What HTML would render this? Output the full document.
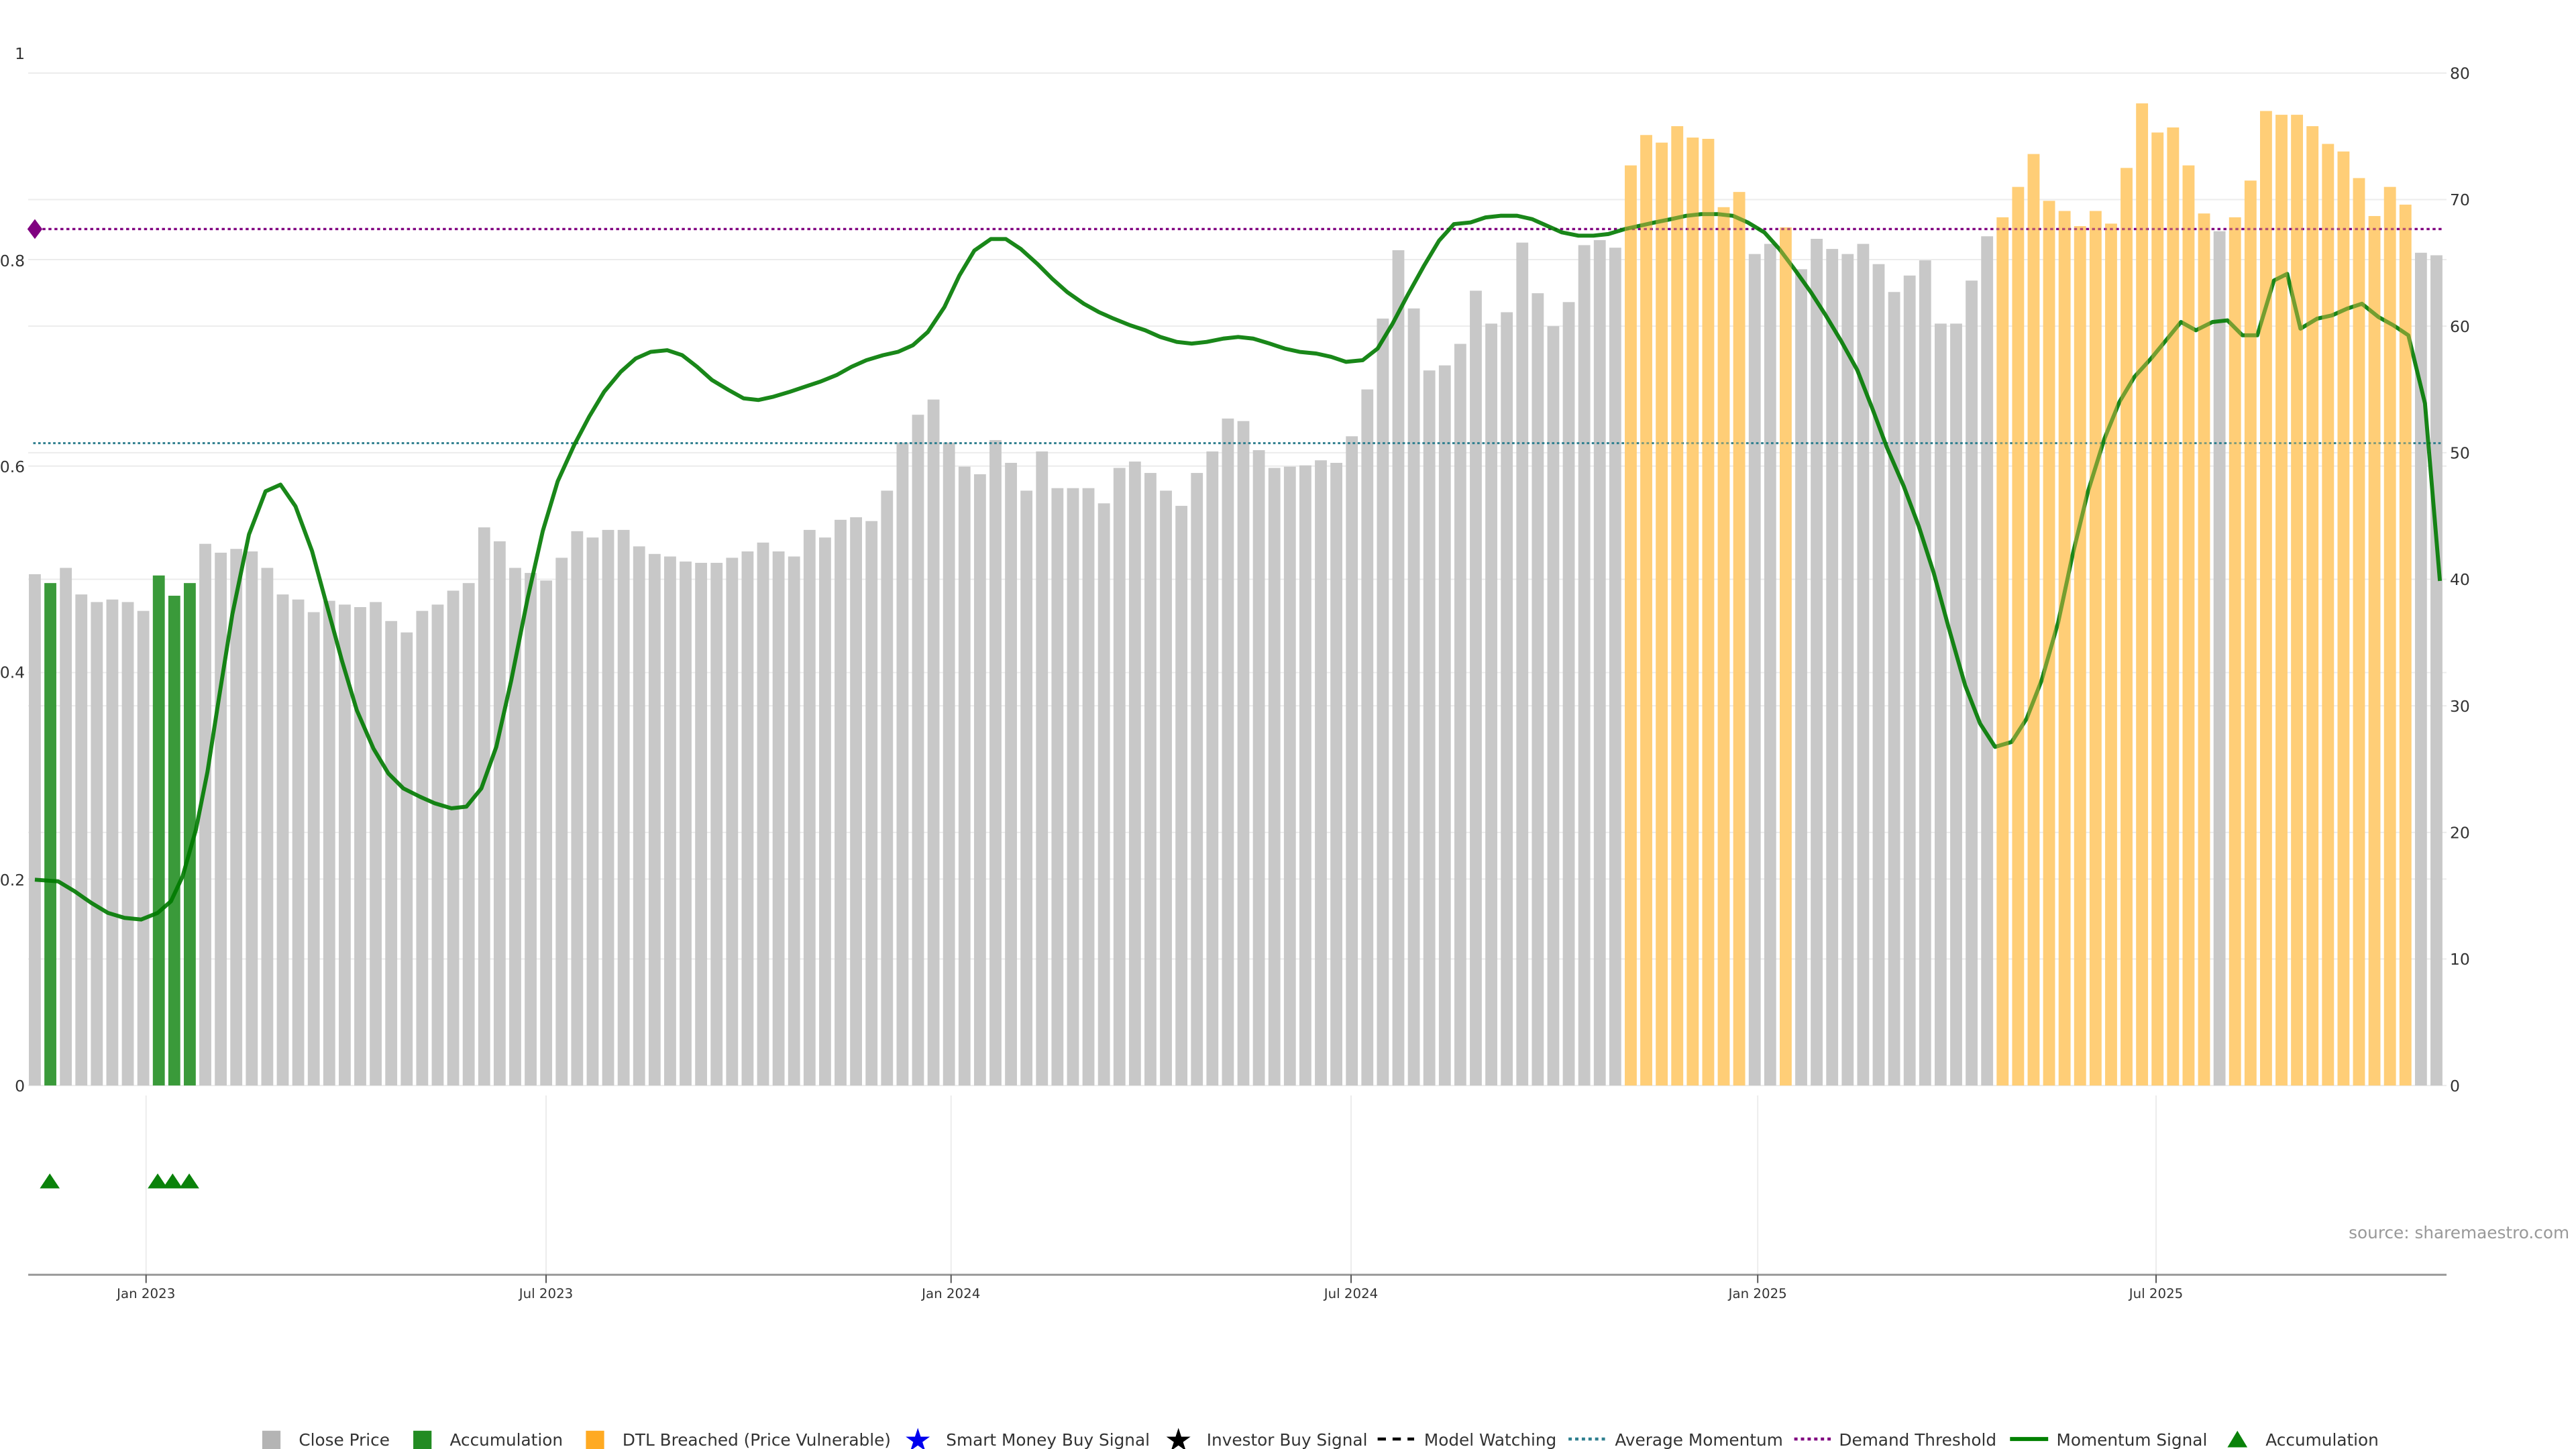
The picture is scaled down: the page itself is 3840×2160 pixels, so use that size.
<!DOCTYPE html>
<html><head><meta charset="utf-8"><style>
html,body{margin:0;padding:0;background:#fff;}
svg{display:block;font-family:"DejaVu Sans","Liberation Sans",sans-serif;}
</style></head><body>
<svg id="c" width="3840" height="2160" viewBox="0 0 1552 873" xmlns="http://www.w3.org/2000/svg">
<rect width="1552" height="873" fill="#fff"/>
<g id="grid" stroke="#ececec" stroke-width="0.8"></g>
<g id="bars"></g>
<line x1="20" y1="267" x2="1472" y2="267" stroke="#2f7f8f" stroke-width="1.2" stroke-dasharray="1.5,1.5"/>
<line x1="22" y1="138" x2="1472" y2="138" stroke="#800080" stroke-width="1.4" stroke-dasharray="1.8,1.8"/>
<polygon points="21,132 25.5,138 21,144 16.5,138" fill="#800080"/>
<polyline id="mom" fill="none" stroke="#007a00" stroke-opacity="0.9" stroke-width="2.4" stroke-linejoin="round"/>
<g id="bars2" opacity="0.4"></g>
<g id="labels" font-size="9.5" fill="#333"></g>
<g fill="#0a820a" id="tri"></g>
<line x1="17" y1="768" x2="1474" y2="768" stroke="#999" stroke-width="1.2"/>
<g id="xt" font-size="8" fill="#333" text-anchor="middle"></g>
<text x="1548" y="746" font-size="10" fill="#999" text-anchor="end">source: sharemaestro.com</text>
<g font-size="10" fill="#333">
<rect x="158" y="862" width="11" height="11" fill="#b4b4b4"/><text x="180" y="871">Close Price</text>
<rect x="249" y="862" width="11" height="11" fill="#228b22"/><text x="271" y="871">Accumulation</text>
<rect x="353" y="862" width="11" height="11" fill="#ffaa22"/><text x="375" y="871">DTL Breached (Price Vulnerable)</text>
<text x="553" y="874" font-size="19" fill="#0000ee" text-anchor="middle">★</text><text x="570" y="871">Smart Money Buy Signal</text>
<text x="710" y="874" font-size="19" fill="#000" text-anchor="middle">★</text><text x="727" y="871">Investor Buy Signal</text>
<line x1="830" y1="867" x2="852" y2="867" stroke="#000" stroke-width="1.8" stroke-dasharray="5,4"/><text x="858" y="871">Model Watching</text>
<line x1="945" y1="867" x2="968" y2="867" stroke="#2f7f8f" stroke-width="1.8" stroke-dasharray="2,2"/><text x="973" y="871">Average Momentum</text>
<line x1="1081" y1="867" x2="1103" y2="867" stroke="#800080" stroke-width="1.8" stroke-dasharray="2,2"/><text x="1108" y="871">Demand Threshold</text>
<line x1="1211" y1="867" x2="1234" y2="867" stroke="#008000" stroke-width="2.4"/><text x="1239" y="871">Momentum Signal</text>
<polygon points="1342,872 1348,862 1354,872" fill="#0a820a"/><text x="1365" y="871">Accumulation</text>
</g>
</svg>
<script>
var NS="http://www.w3.org/2000/svg";
function el(p,t,a,txt){var e=document.createElementNS(NS,t);for(var k in a)e.setAttribute(k,a[k]);if(txt!=null)e.textContent=txt;document.getElementById(p).appendChild(e);return e;}
for(var v=0;v<=80;v+=10){var y=654-v*7.625;el("grid","line",{x1:17,x2:1474,y1:y,y2:y});el("labels","text",{x:1476,y:y+3.5},String(v));}
[0.2,0.4,0.6,0.8].forEach(function(v){var y=654-v*622;el("grid","line",{x1:17,x2:1474,y1:y,y2:y});});
[["0",654],["0.2",530],["0.4",405],["0.6",281],["0.8",157],["1",32]].forEach(function(a){el("labels","text",{x:15,y:a[1]+3.5,"text-anchor":"end"},a[0]);});
var ticks=[[88,"Jan 2023"],[329,"Jul 2023"],[573,"Jan 2024"],[814,"Jul 2024"],[1059,"Jan 2025"],[1299,"Jul 2025"]];
ticks.forEach(function(t){el("grid","line",{x1:t[0],x2:t[0],y1:660,y2:768});el("xt","line",{x1:t[0],x2:t[0],y1:768,y2:773,stroke:"#555","stroke-width":0.8});el("xt","text",{x:t[0],y:782},t[1]);});
var vals=[40.4,39.7,40.9,38.8,38.2,38.4,38.2,37.5,40.3,38.7,39.7,42.8,42.1,42.4,42.2,40.9,38.8,38.4,37.4,38.3,38,37.8,38.2,36.7,35.8,37.5,38,39.1,39.7,44.1,43,40.9,40.5,39.9,41.7,43.8,43.3,43.9,43.9,42.6,42,41.8,41.4,41.3,41.3,41.7,42.2,42.9,42.2,41.8,43.9,43.3,44.7,44.9,44.6,47,50.8,53,54.2,50.8,48.9,48.3,51,49.2,47,50.1,47.2,47.2,47.2,46,48.8,49.3,48.4,47,45.8,48.4,50.1,52.7,52.5,50.2,48.8,48.9,49,49.4,49.2,51.3,55,60.6,66,61.4,56.5,56.9,58.6,62.8,60.2,61.1,66.6,62.6,60,61.9,66.4,66.8,66.2,72.7,75.1,74.5,75.8,74.9,74.8,69.4,70.6,65.7,66.5,67.8,64.5,66.9,66.1,65.7,66.5,64.9,62.7,64,65.2,60.2,60.2,63.6,67.1,68.6,71,73.6,69.9,69.1,67.9,69.1,68.1,72.5,77.6,75.3,75.7,72.7,68.9,67.5,68.6,71.5,77,76.7,76.7,75.8,74.4,73.8,71.7,68.7,71,69.6,65.8,65.6];
var green=[1,8,9,10];
function isO(i){return (i>=103&&i<=110)||i==113||(i>=127&&i<=140)||(i>=142&&i<=153);}
function col(i){if(green.indexOf(i)>=0)return "#3a9a3a";if(isO(i))return "#ffd386";return "#c8c8c8";}
for(var i=0;i<vals.length;i++){var x=21+i*9.335,h=vals[i]*7.625;el("bars","rect",{x:x-3.6,y:654-h,width:7.2,height:h,fill:col(i)});if(isO(i))el("bars2","rect",{x:x-3.6,y:654-h,width:7.2,height:h,fill:"#ffc862"});}
[30,95,104,114].forEach(function(x){el("tri","polygon",{points:(x-6)+",716 "+x+",707 "+(x+6)+",716"});});
var pts=[[21,530],[35,531],[45,537],[55,544],[65,550],[75,553],[85,554],[95,550],[103,543],[110,528],[118,500],[125,465],[132,420],[140,370],[150,322],[160,296],[169,292],[178,305],[188,332],[197,365],[206,398],[215,428],[225,451],[234,466],[243,475],[253,480],[262,484],[272,487],[281,486],[290,475],[299,450],[308,410],[318,360],[327,320],[336,290],[346,268],[355,251],[364,236],[374,224],[383,216],[392,212],[402,211],[411,214],[420,221],[429,229],[439,235],[448,240],[457,241],[466,239],[476,236],[485,233],[494,230],[504,226],[513,221],[522,217],[532,214],[541,212],[550,208],[559,200],[569,185],[578,166],[587,151],[597,144],[606,144],[615,150],[625,159],[634,168],[643,176],[653,183],[662,188],[671,192],[681,196],[690,199],[699,203],[709,206],[718,207],[727,206],[737,204],[746,203],[755,204],[765,207],[774,210],[783,212],[793,213],[802,215],[811,218],[821,217],[830,210],[839,195],[848,178],[858,160],[867,145],[876,135],[886,134],[895,131],[904,130],[914,130],[923,132],[932,136],[941,140],[951,142],[960,142],[969,141],[979,138],[988,136],[997,134],[1007,132],[1016,130],[1025,129],[1035,129],[1044,130],[1053,134],[1063,140],[1072,150],[1081,162],[1091,176],[1100,190],[1109,205],[1119,223],[1128,246],[1137,270],[1147,293],[1156,317],[1165,345],[1174,378],[1184,413],[1193,436],[1202,450],[1212,447],[1221,433],[1230,410],[1240,375],[1249,333],[1258,296],[1268,264],[1277,242],[1286,227],[1296,216],[1305,205],[1314,194],[1323,199],[1333,194],[1342,193],[1351,202],[1360,202],[1370,169],[1378,165],[1386,198],[1396,192],[1405,190],[1414,186],[1423,183],[1433,191],[1442,196],[1451,202],[1461,243],[1470,350]];
document.getElementById("mom").setAttribute("points",pts.map(function(p){return p.join(",");}).join(" "));
</script>
</body></html>
